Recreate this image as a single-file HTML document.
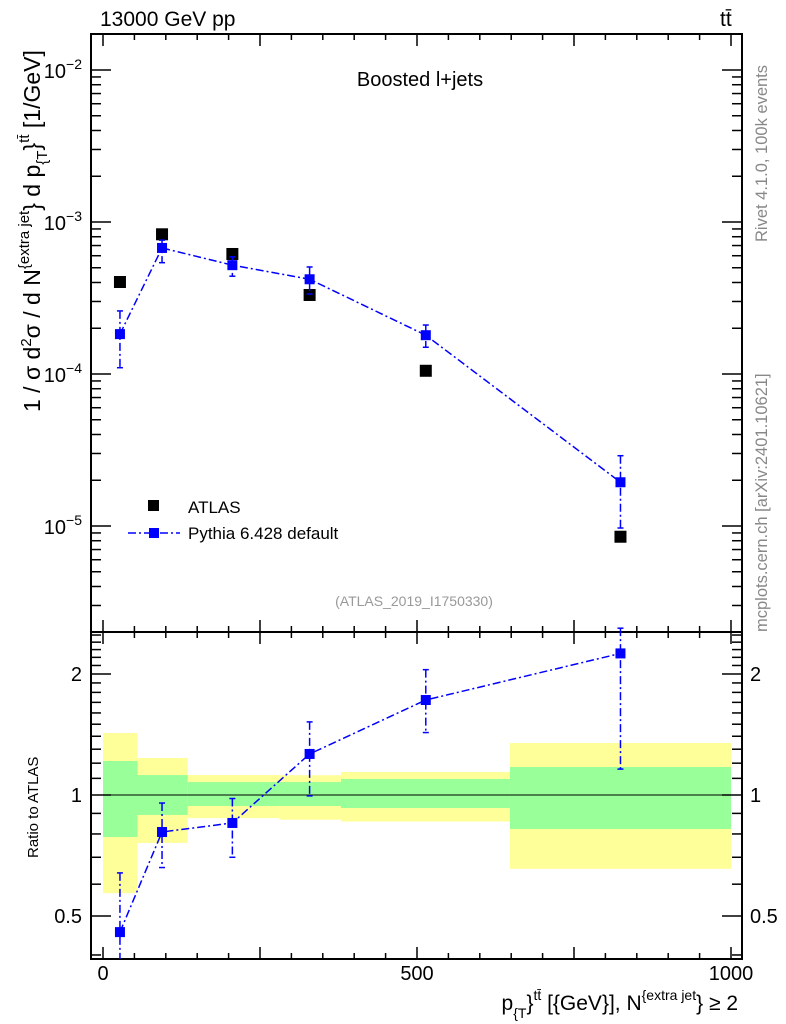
<!DOCTYPE html>
<html><head><meta charset="utf-8"><style>
body{margin:0;background:#fff;}
svg{display:block;font-family:"Liberation Sans",sans-serif;}
</style></head><body>
<svg id="c" width="786" height="1024" viewBox="0 0 786 1024"></svg>
<script>
const xCenters=[27,94,206,329,514,824];
const dataVals=[4.03e-4,8.3e-4,6.16e-4,3.31e-4,1.05e-4,8.5e-6];
const mcVals=[1.83e-4,6.75e-4,5.2e-4,4.2e-4,1.8e-4,1.94e-5];
const mcHi=[2.6e-4,7.6e-4,5.9e-4,5.06e-4,2.1e-4,2.9e-5];
const mcLo=[1.1e-4,5.4e-4,4.4e-4,3.36e-4,1.5e-4,9.7e-6];
const ratioVals=[0.456,0.809,0.852,1.265,1.723,2.25];
const ratioHi=[0.64,0.955,0.98,1.52,2.05,2.6];
const ratioLo=[0.38,0.66,0.70,0.995,1.43,1.16];
const binEdges=[0,55,135,281,379,648,1000];
const yellowHi=[1.426,1.236,1.121,1.12,1.141,1.347];
const greenHi=[1.215,1.121,1.077,1.077,1.096,1.174];
const greenLo=[0.786,0.892,0.939,0.939,0.928,0.823];
const yellowLo=[0.570,0.760,0.876,0.868,0.859,0.655];
const xTicks=[0,500,1000];
const yTopTicks=[-2,-3,-4,-5];
const yRatTicks=[0.5,1,2];

const NS="http://www.w3.org/2000/svg";
const svg=document.getElementById('c');
function mk(t,a,p){const e=document.createElementNS(NS,t);for(const k in a)e.setAttribute(k,a[k]);(p||svg).appendChild(e);return e;}
const L=91,R=742,T=34,M=632,B=959;
const X=v=>103+v*0.628;
const YT=v=>222-(Math.log10(v)+3)*152;
const YR=v=>795-Math.log10(v)*402;

for(let i=0;i<binEdges.length-1;i++){
 const x1=X(binEdges[i]),x2=X(binEdges[i+1]);
 const y=mk('rect',{x:x1,y:YR(yellowHi[i]),width:x2-x1,height:YR(yellowLo[i])-YR(yellowHi[i]),fill:'#ffff99'});
 
 
 const g=mk('rect',{x:x1,y:YR(greenHi[i]),width:x2-x1,height:YR(greenLo[i])-YR(greenHi[i]),fill:'#99ff99'});
 
 
}
mk('line',{x1:L,x2:R,y1:YR(1),y2:YR(1),stroke:'#000','stroke-width':1});

mk('rect',{x:L,y:T,width:R-L,height:M-T,fill:'none',stroke:'#000','stroke-width':2});
mk('rect',{x:L,y:M,width:R-L,height:B-M,fill:'none',stroke:'#000','stroke-width':2});

for(let v=0;v<=1000;v+=50){
 const len=v%250===0?12:6;
 const x=X(v);
 for(const [y0,d] of [[T,1],[M,-1],[M,1],[B,-1]]) mk('line',{x1:x,x2:x,y1:y0,y2:y0+d*len,stroke:'#000','stroke-width':1.5});
}
xTicks.forEach(v=>{const t=mk('text',{x:X(v),y:980,'font-size':20,'text-anchor':'middle'});t.textContent=v;
 });

for(let d=-6;d<=-2;d++){for(let m=1;m<10;m++){const v=m*Math.pow(10,d);const y=YT(v);if(y<T||y>M)continue;
 const len=m===1?20:10;mk('line',{x1:L,x2:L+len,y1:y,y2:y,stroke:'#000','stroke-width':1.5});mk('line',{x1:R,x2:R-len,y1:y,y2:y,stroke:'#000','stroke-width':1.5});}}
yTopTicks.forEach(e=>{const t=mk('text',{x:82,y:YT(Math.pow(10,e))+8,'font-size':20,'text-anchor':'end'});
 t.innerHTML='10<tspan dy="-9" font-size="14">'+(e<0?'−':'')+Math.abs(e)+'</tspan>';
 });
[0.4,0.5,0.6,0.7,0.8,0.9,1,1.1,1.2,1.3,1.4,1.5,1.6,1.7,1.8,1.9,2,2.1,2.2,2.3,2.4,2.5].forEach(v=>{const y=YR(v);if(y<M||y>B)return;
 const len=[0.5,1,2].includes(v)?20:10;mk('line',{x1:L,x2:L+len,y1:y,y2:y,stroke:'#000','stroke-width':1.5});mk('line',{x1:R,x2:R-len,y1:y,y2:y,stroke:'#000','stroke-width':1.5});});
yRatTicks.forEach(v=>{const t=mk('text',{x:82,y:YR(v)+7,'font-size':20,'text-anchor':'end'});t.textContent=v;
 
 const t2=mk('text',{x:750,y:YR(v)+7,'font-size':20});t2.textContent=v;
 });

dataVals.forEach((v,i)=>{const r=mk('rect',{x:X(xCenters[i])-6,y:YT(v)-6,width:12,height:12,fill:'#000'});
 });
function series(vals,hi,lo,Y,name){
 mk('polyline',{points:vals.map((v,i)=>X(xCenters[i])+','+Y(v)).join(' '),fill:'none',stroke:'#0000ff','stroke-width':1.5,'stroke-dasharray':'8,3,2,3'});
 vals.forEach((v,i)=>{const x=X(xCenters[i]);
  const yh=Math.max(Y(hi[i]),T),yl=Y(lo[i]);
  mk('line',{x1:x,x2:x,y1:yh,y2:Math.min(yl,B),stroke:'#0000ff','stroke-width':1.5,'stroke-dasharray':'8,3,2,3'});
  mk('line',{x1:x-3,x2:x+3,y1:yh,y2:yh,stroke:'#0000ff','stroke-width':1.5});
  if(yl<B)mk('line',{x1:x-3,x2:x+3,y1:yl,y2:yl,stroke:'#0000ff','stroke-width':1.5});
  const r=mk('rect',{x:x-5,y:Y(v)-5,width:10,height:10,fill:'#0000ff'});
  });
}
series(mcVals,mcHi,mcLo,YT,'pythia-point');
series(ratioVals,ratioHi,ratioLo,YR,'ratio-point');
</script>
<svg width="786" height="1024" style="position:absolute;left:0;top:0">
<text x="100" y="26" font-size="21">13000 GeV pp</text>
<text x="720" y="26" font-size="21">tt̄</text>
<text x="420" y="86" font-size="20" text-anchor="middle">Boosted l+jets</text>
<text x="414" y="606" font-size="14" fill="#999" text-anchor="middle">(ATLAS_2019_I1750330)</text>
<rect x="148" y="500" width="11" height="11" fill="#000"/>
<text x="188" y="513" font-size="17">ATLAS</text>
<line x1="128" x2="180" y1="533" y2="533" stroke="#0000ff" stroke-width="1.5" stroke-dasharray="8,3,2,3"/>
<rect x="149" y="528" width="10" height="10" fill="#0000ff"/>
<text x="188" y="539" font-size="17">Pythia 6.428 default</text>
<text transform="translate(40,412) rotate(-90)" font-size="23">1 / σ d<tspan dy="-9" font-size="15">2</tspan><tspan dy="9">σ /  d N</tspan><tspan dy="-11" font-size="15">{extra jet</tspan><tspan dy="11">} d p</tspan><tspan dy="7" font-size="15">{T</tspan><tspan dy="-7">}</tspan><tspan dy="-11" font-size="15">tt̄</tspan><tspan dy="11"> [1/GeV]</tspan></text>
<text transform="translate(38,858) rotate(-90)" font-size="15">Ratio to ATLAS</text>
<text x="738" y="1010" font-size="21" text-anchor="end">p<tspan dy="8" font-size="14">{T</tspan><tspan dy="-8">}</tspan><tspan dy="-10" font-size="14">tt̄</tspan><tspan dy="10"> [{GeV}], N</tspan><tspan dy="-10" font-size="14">{extra jet</tspan><tspan dy="10">} ≥ 2</tspan></text>
<text transform="translate(767,242) rotate(-90)" font-size="16.5" fill="#888">Rivet 4.1.0,  100k events</text>
<text transform="translate(767,632) rotate(-90)" font-size="16.5" fill="#888">mcplots.cern.ch [arXiv:2401.10621]</text>
</svg>
</body></html>
